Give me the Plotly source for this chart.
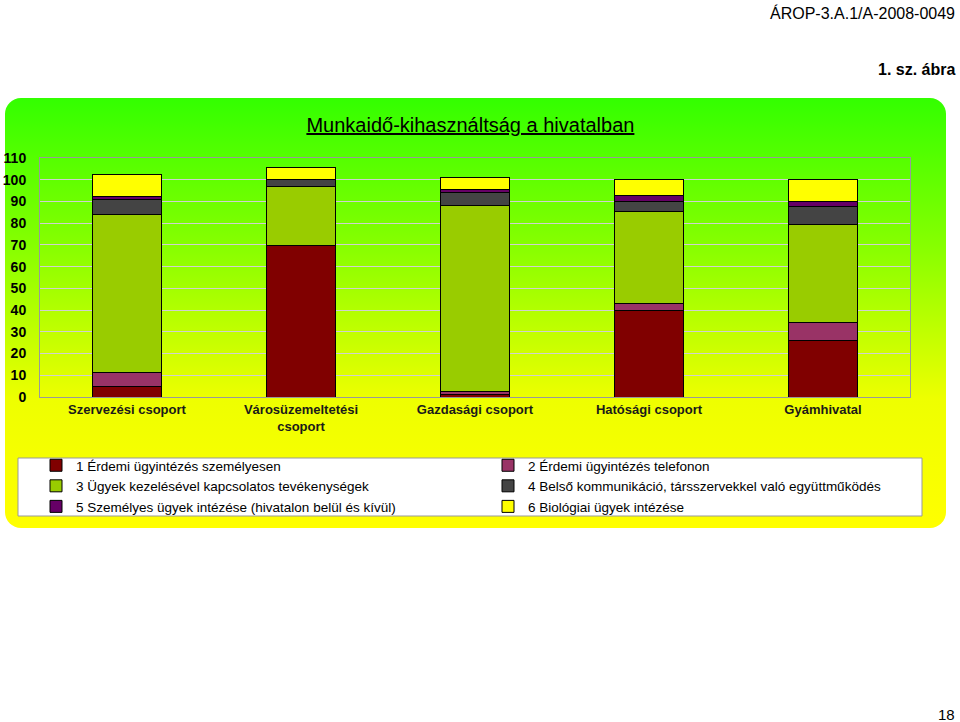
import base64
import plotly.graph_objects as go

categories = ["Szervezési csoport", "Városüzemeltetési<br>csoport", "Gazdasági csoport",
              "Hatósági csoport", "Gyámhivatal"]
series_names = ["1 Érdemi ügyintézés személyesen",
                "2 Érdemi ügyintézés telefonon",
                "3 Ügyek kezelésével kapcsolatos tevékenységek",
                "4 Belső kommunikáció, társszervekkel való együttműködés",
                "5 Személyes ügyek intézése (hivatalon belül és kívül)",
                "6 Biológiai ügyek intézése"]
s1 = [4.9, 69.6, 1.1, 39.7, 26.2]
s2 = [6.2, 0.0, 1.5, 3.5, 8.2]
s3 = [72.7, 27.3, 85.4, 42.3, 44.8]
s4 = [6.9, 3.4, 6.1, 4.3, 8.3]
s5 = [1.6, 0.0, 1.3, 2.9, 2.5]
s6 = [10.0, 5.4, 5.4, 7.3, 10.0]
series_values = [s1, s2, s3, s4, s5, s6]
colors = ["#800000", "#993366", "#99cc00", "#444444", "#660066", "#ffff00"]
y_ticks = list(range(0, 111, 10))

fig = go.Figure()
for name, vals, col in zip(series_names, series_values, colors):
    fig.add_trace(go.Bar(x=categories, y=vals, name=name,
                         marker=dict(color=col, line=dict(color="#000000", width=1))))

svg = ('<svg xmlns="http://www.w3.org/2000/svg" width="941" height="430">'
       '<defs><linearGradient id="g" x1="0" y1="0" x2="0" y2="1">'
       '<stop offset="0" stop-color="#33ff00"/>'
       '<stop offset="0.35" stop-color="#88ff00"/>'
       '<stop offset="0.7" stop-color="#eeff00"/>'
       '<stop offset="1" stop-color="#ffff00"/>'
       '</linearGradient></defs>'
       '<rect x="0" y="0" width="941" height="430" rx="16" ry="16" fill="url(#g)"/></svg>')
src = "data:image/svg+xml;base64," + base64.b64encode(svg.encode()).decode()

L, R, T, B = 40, 910, 158, 397
W, H = R - L, B - T

def px(x):
    return (x - L) / W

def py(y):
    return (B - y) / H

sans = "Liberation Sans, Arial, sans-serif"

fig.update_layout(
    width=960, height=722,
    margin=dict(l=L, r=960 - R, t=T, b=722 - B, autoexpand=False),
    paper_bgcolor="white", plot_bgcolor="white",
    barmode="stack", bargap=0.6,
    font=dict(family=sans, color="#000000"),
    title=dict(text="<u>Munkaidő-kihasználtság a hivatalban</u>",
               x=0.49, xanchor="center", y=1 - 125 / 722, yanchor="middle",
               font=dict(family=sans, size=20, color="#000000")),
    showlegend=True,
    legend=dict(orientation="h", x=px(36), y=py(450), xanchor="left", yanchor="top",
                bgcolor="rgba(0,0,0,0)", borderwidth=0,
                entrywidth=407, entrywidthmode="pixels", itemwidth=30,
                traceorder="normal",
                font=dict(family=sans, size=13.5, color="#000000")),
    images=[dict(source=src, xref="paper", yref="paper", x=px(5), y=py(98),
                 sizex=941 / W, sizey=430 / H, sizing="stretch",
                 xanchor="left", yanchor="top", layer="below")],
    shapes=[dict(type="rect", xref="paper", yref="paper", x0=px(18), x1=px(922),
                 y0=py(458), y1=py(516), fillcolor="white",
                 line=dict(color="#999999", width=1), layer="below")],
    annotations=[
        dict(text="ÁROP-3.A.1/A-2008-0049", xref="paper", yref="paper", x=px(957), y=py(13),
             xanchor="right", yanchor="middle", showarrow=False,
             font=dict(family=sans, size=16, color="#000000")),
        dict(text="<b>1. sz. ábra</b>", xref="paper", yref="paper", x=px(957), y=py(69),
             xanchor="right", yanchor="middle", showarrow=False,
             font=dict(family=sans, size=16, color="#000000")),
        dict(text="18", xref="paper", yref="paper", x=px(957), y=py(714),
             xanchor="right", yanchor="middle", showarrow=False,
             font=dict(family=sans, size=15, color="#000000")),
    ],
)
fig.update_yaxes(range=[0, 110], tickvals=y_ticks, ticktext=[str(v) for v in y_ticks],
                 showgrid=True, gridcolor="#d0d0d0", gridwidth=1, automargin=False,
                 showline=True, linecolor="#999999", mirror=True, zeroline=False,
                 ticks="", ticklabelstandoff=10,
                 tickfont=dict(family=sans, size=14, color="#000000", weight="bold"),
                 fixedrange=True)
fig.update_xaxes(showline=True, linecolor="#999999", mirror=True, automargin=False,
                 ticks="", showgrid=False,
                 tickfont=dict(family=sans, size=13, color="#1a1a1a", weight="bold"),
                 fixedrange=True)

fig.write_html("out.html")
